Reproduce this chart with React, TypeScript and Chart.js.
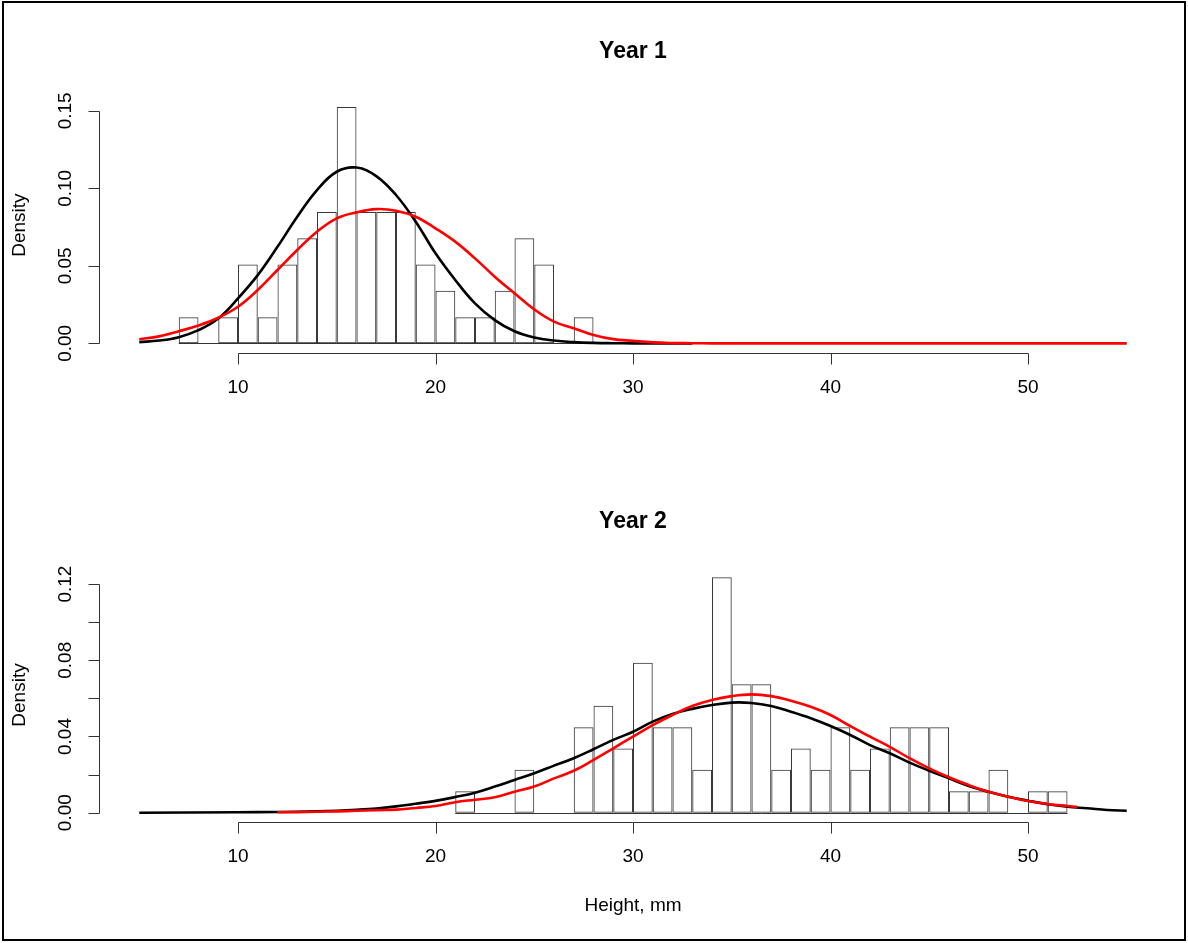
import { useEffect, useRef } from "react";
import { Chart, registerables } from "chart.js";

Chart.register(...registerables);

const FONT = '"Liberation Sans", Arial, sans-serif';

// shared x axis ticks
const xTicks = [10, 20, 30, 40, 50];
const xMin = 3;
const xMax = 57;

// ---------- Year 1 ----------
const year1BinLeft = [7, 8, 9, 10, 11, 12, 13, 14, 15, 16, 17, 18, 19, 20, 21, 22, 23, 24, 25, 26, 27];
const year1Density = [
  0.0169, 0, 0.0169, 0.0508, 0.0169, 0.0508, 0.0678, 0.0847, 0.1525, 0.0847, 0.0847,
  0.0847, 0.0508, 0.0339, 0.0169, 0.0169, 0.0339, 0.0678, 0.0508, 0, 0.0169,
];
const year1NormX = [5, 6, 7, 8, 9, 10, 11, 12, 13, 14, 15, 16, 17, 18, 19, 20, 21, 22, 23, 24, 25, 26, 27, 28, 29, 30, 31, 32, 33];
const year1NormY = [
  0.0008, 0.0018, 0.004, 0.0085, 0.016, 0.029, 0.044, 0.0623, 0.0817, 0.0989, 0.1107,
  0.1134, 0.1079, 0.0957, 0.0785, 0.0581, 0.0409, 0.0258, 0.015, 0.0078, 0.0038,
  0.0018, 0.0008, 0.0003, 0.0001, 0, 0, 0, 0,
];
const year1KdeX = [5, 6, 7, 8, 9, 10, 11, 12, 13, 14, 15, 16, 17, 18, 19, 20, 21, 22, 23, 24, 25, 26, 27, 28, 29, 30, 31, 32, 33, 34, 55];
const year1KdeY = [
  0.0026, 0.0045, 0.0078, 0.0115, 0.0165, 0.0236, 0.0344, 0.0473, 0.0602, 0.072, 0.0806,
  0.0845, 0.0866, 0.0856, 0.0817, 0.0742, 0.0656, 0.0548, 0.043, 0.0323, 0.0219,
  0.014, 0.0098, 0.0054, 0.0027, 0.0016, 0.0006, 0.0002, 0.0001, 0, 0,
];
const year1YTicks = [0, 0.05, 0.1, 0.15];
const year1YLabels = ["0.00", "0.05", "0.10", "0.15"];

// ---------- Year 2 ----------
const year2BinLeft = [21, 22, 23, 24, 25, 26, 27, 28, 29, 30, 31, 32, 33, 34, 35, 36, 37, 38, 39, 40, 41, 42, 43, 44, 45, 46, 47, 48, 49, 50, 51];
const year2Density = [
  0.0112, 0, 0, 0.0225, 0, 0, 0.0449, 0.0562, 0.0337, 0.0787, 0.0449, 0.0449, 0.0225,
  0.1236, 0.0674, 0.0674, 0.0225, 0.0337, 0.0225, 0.0449, 0.0225, 0.0337, 0.0449, 0.0449,
  0.0449, 0.0112, 0.0112, 0.0225, 0, 0.0112, 0.0112,
];
const year2NormX = [5, 10, 12, 14, 15, 16, 17, 18, 19, 20, 21, 22, 23, 24, 25, 26, 27, 28, 29, 30, 31, 32, 33, 34, 35, 36, 37, 38, 39, 40, 41, 42, 43, 44, 45, 46, 47, 48, 49, 50, 51, 52, 53, 54, 55];
const year2NormY = [
  0, 0.0002, 0.0004, 0.0007, 0.001, 0.0015, 0.0022, 0.0033, 0.0047, 0.0062, 0.0082, 0.0105,
  0.0137, 0.0172, 0.0207, 0.0247, 0.0286, 0.0333, 0.0382, 0.0425, 0.0478, 0.0518, 0.0545,
  0.0565, 0.0578, 0.0576, 0.056, 0.053, 0.0496, 0.0455, 0.0408, 0.0355, 0.0312, 0.0263,
  0.022, 0.018, 0.014, 0.011, 0.0084, 0.0063, 0.0044, 0.0031, 0.0023, 0.0014, 0.001,
];
const year2KdeX = [12, 13, 14, 15, 16, 17, 18, 19, 20, 21, 22, 23, 24, 25, 26, 27, 28, 29, 30, 31, 32, 33, 34, 35, 36, 37, 38, 39, 40, 41, 42, 43, 44, 45, 46, 47, 48, 49, 50, 51, 52, 52.5];
const year2KdeY = [
  0.0002, 0.0003, 0.0005, 0.0007, 0.001, 0.0013, 0.0016, 0.0025, 0.0035, 0.0055, 0.0068,
  0.0081, 0.011, 0.0137, 0.018, 0.022, 0.0277, 0.0338, 0.0399, 0.046, 0.0513, 0.056, 0.0592,
  0.0612, 0.0621, 0.0612, 0.0588, 0.0556, 0.0513, 0.0455, 0.0399, 0.0346, 0.0286, 0.0233,
  0.0186, 0.0145, 0.011, 0.0084, 0.0061, 0.0046, 0.0035, 0.003,
];
const year2YTicks = [0, 0.02, 0.04, 0.06, 0.08, 0.1, 0.12];
const year2YLabels = ["0.00", "", "0.04", "", "0.08", "", "0.12"];

type PanelCfg = {
  title: string;
  xLabel: string;
  binLeft: number[];
  density: number[];
  normX: number[];
  normY: number[];
  kdeX: number[];
  kdeY: number[];
  yTicks: number[];
  yLabels: string[];
  yMin: number;
  yMax: number;
  padTop: number;
  padBottom: number;
};

function makeRPlugin(cfg: PanelCfg) {
  return {
    id: "rStyle",
    beforeDatasetsDraw(chart: any) {
      const { ctx } = chart;
      const xs = chart.scales.x;
      const ys = chart.scales.y;
      const y0 = Math.round(ys.getPixelForValue(0)) + 0.5;
      ctx.save();
      ctx.strokeStyle = "#333";
      ctx.lineWidth = 1;
      ctx.beginPath();
      ctx.moveTo(xs.getPixelForValue(cfg.binLeft[0]), y0);
      ctx.lineTo(xs.getPixelForValue(cfg.binLeft[cfg.binLeft.length - 1] + 1), y0);
      ctx.stroke();
      ctx.restore();
    },
    afterDraw(chart: any) {
      const { ctx, chartArea: ca } = chart;
      const xs = chart.scales.x;
      const ys = chart.scales.y;
      ctx.save();
      ctx.strokeStyle = "#333";
      ctx.lineWidth = 1;
      const axY = Math.round(ca.bottom) + 0.5;
      const xp = (v: number) => Math.round(xs.getPixelForValue(v)) + 0.5;
      const axX = Math.round(ca.left) - 0.5;
      const yp = (v: number) => Math.round(ys.getPixelForValue(v)) + 0.5;
      ctx.beginPath();
      ctx.moveTo(xp(xTicks[0]), axY);
      ctx.lineTo(xp(xTicks[xTicks.length - 1]), axY);
      xTicks.forEach((t) => {
        ctx.moveTo(xp(t), axY);
        ctx.lineTo(xp(t), axY + 11);
      });
      ctx.moveTo(axX, yp(cfg.yTicks[0]));
      ctx.lineTo(axX, yp(cfg.yTicks[cfg.yTicks.length - 1]));
      cfg.yTicks.forEach((t) => {
        ctx.moveTo(axX, yp(t));
        ctx.lineTo(axX - 11, yp(t));
      });
      ctx.stroke();

      ctx.fillStyle = "#000";
      ctx.font = `19px ${FONT}`;
      ctx.textAlign = "center";
      ctx.textBaseline = "middle";
      xTicks.forEach((t) => ctx.fillText(String(t), xs.getPixelForValue(t), axY + 34));
      cfg.yTicks.forEach((t, i) => {
        const lab = cfg.yLabels[i];
        if (!lab) return;
        ctx.save();
        ctx.translate(axX - 34, ys.getPixelForValue(t));
        ctx.rotate(-Math.PI / 2);
        ctx.fillText(lab, 0, 0);
        ctx.restore();
      });
      ctx.save();
      ctx.translate(ca.left - 80, (ca.top + ca.bottom) / 2);
      ctx.rotate(-Math.PI / 2);
      ctx.fillText("Density", 0, 0);
      ctx.restore();
      if (cfg.xLabel) {
        ctx.fillText(cfg.xLabel, (ca.left + ca.right) / 2, axY + 83);
      }
      ctx.font = `bold 23px ${FONT}`;
      ctx.fillText(cfg.title, (ca.left + ca.right) / 2, ca.top - 46);
      ctx.restore();
    },
  };
}

function buildConfig(cfg: PanelCfg): any {
  return {
    type: "bar",
    data: {
      datasets: [
        {
          type: "line",
          label: "kernel density",
          data: cfg.kdeX.map((x, i) => ({ x, y: cfg.kdeY[i] })),
          borderColor: "#ff0000",
          borderWidth: 2.6,
          pointRadius: 0,
          tension: 0.4,
          fill: false,
        },
        {
          type: "line",
          label: "normal",
          data: cfg.normX.map((x, i) => ({ x, y: cfg.normY[i] })),
          borderColor: "#000000",
          borderWidth: 2.6,
          pointRadius: 0,
          tension: 0.4,
          fill: false,
        },
        {
          type: "bar",
          label: "histogram",
          data: cfg.binLeft.map((b, i) => ({ x: b + 0.5, y: cfg.density[i] })),
          backgroundColor: "rgba(0,0,0,0)",
          borderColor: "#3a3a3a",
          borderWidth: 1,
          borderSkipped: false,
          barPercentage: 1,
          categoryPercentage: 1,
          inflateAmount: 0,
        },
      ],
    },
    options: {
      responsive: false,
      animation: false,
      devicePixelRatio: 1,
      events: [],
      layout: { padding: { left: 99.75, right: 21.75, top: cfg.padTop, bottom: cfg.padBottom } },
      plugins: { legend: { display: false }, tooltip: { enabled: false }, title: { display: false } },
      scales: {
        x: { type: "linear", min: xMin, max: xMax, offset: false, display: false },
        y: { type: "linear", min: cfg.yMin, max: cfg.yMax, display: false },
      },
    },
    plugins: [makeRPlugin(cfg)],
  };
}

export default function App() {
  const ref1 = useRef<HTMLCanvasElement>(null);
  const ref2 = useRef<HTMLCanvasElement>(null);

  useEffect(() => {
    const c1 = new Chart(
      ref1.current as HTMLCanvasElement,
      buildConfig({
        title: "Year 1",
        xLabel: "",
        binLeft: year1BinLeft,
        density: year1Density,
        normX: year1NormX,
        normY: year1NormY,
        kdeX: year1KdeX,
        kdeY: year1KdeY,
        yTicks: year1YTicks,
        yLabels: year1YLabels,
        yMin: -0.0061,
        yMax: 0.1586,
        padTop: 97.5,
        padBottom: 117.2,
      })
    );
    const c2 = new Chart(
      ref2.current as HTMLCanvasElement,
      buildConfig({
        title: "Year 2",
        xLabel: "Height, mm",
        binLeft: year2BinLeft,
        density: year2Density,
        normX: year2NormX,
        normY: year2NormY,
        kdeX: year2KdeX,
        kdeY: year2KdeY,
        yTicks: year2YTicks,
        yLabels: year2YLabels,
        yMin: -0.00494,
        yMax: 0.1285,
        padTop: 97.9,
        padBottom: 120.9,
      })
    );
    return () => {
      c1.destroy();
      c2.destroy();
    };
  }, []);

  return (
    <div style={{ position: "fixed", left: 0, top: 0, width: 1188, height: 943, background: "#fff", overflow: "hidden" }}>
      <div
        style={{
          position: "absolute",
          left: 2,
          top: 1,
          width: 1184,
          height: 940,
          border: "2px solid #000",
          boxSizing: "border-box",
        }}
      />
      <canvas ref={ref1} width={1188} height={470} style={{ position: "absolute", left: 0, top: 0 }} />
      <canvas ref={ref2} width={1188} height={473} style={{ position: "absolute", left: 0, top: 470 }} />
    </div>
  );
}
